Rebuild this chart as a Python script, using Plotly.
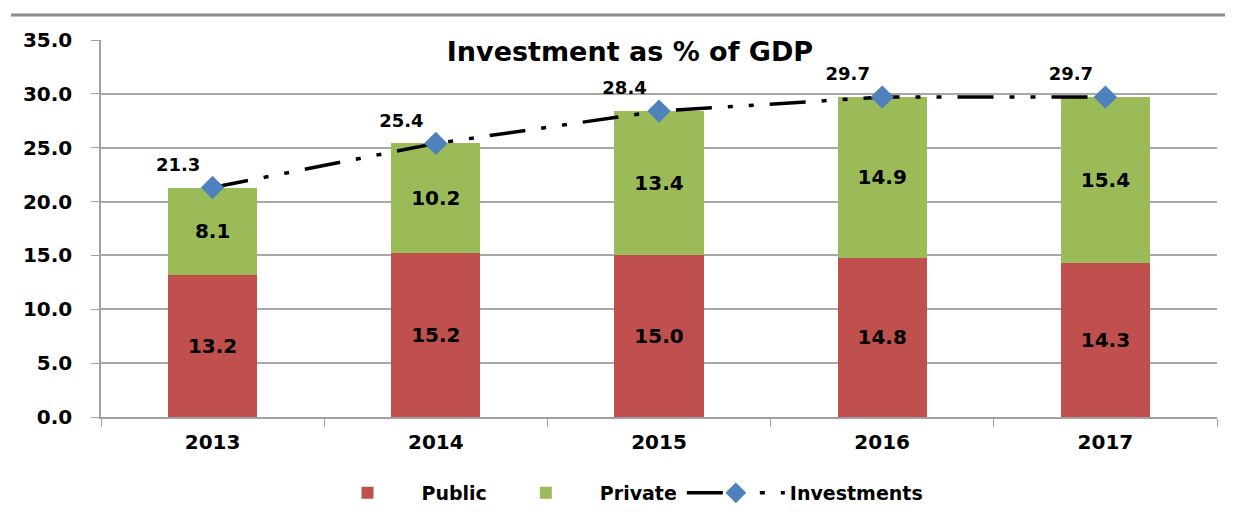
import plotly.graph_objects as go

years = ["2013", "2014", "2015", "2016", "2017"]
public = [13.2, 15.2, 15.0, 14.8, 14.3]
private = [8.1, 10.2, 13.4, 14.9, 15.4]
investments = [21.3, 25.4, 28.4, 29.7, 29.7]
y_ticks = [0, 5, 10, 15, 20, 25, 30, 35]

FONT = "DejaVu Sans"
W, H = 1217, 498          # page body has an 8px default margin on every side
L, R, T, B = 93, 8, 32, 89
PW, PH = W - L - R, H - T - B


def px(x):
    return (x - L) / PW


def py(y):
    return (T + PH - y) / PH


fig = go.Figure()
fig.add_trace(go.Bar(
    x=years, y=public, name="Public",
    marker=dict(color="#C0504D", line=dict(width=0)),
    text=[f"{v:.1f}" for v in public], textposition="inside",
    insidetextanchor="middle",
    textfont=dict(family=FONT, size=20, color="black", weight="bold"),
    width=0.4,
))
fig.add_trace(go.Bar(
    x=years, y=private, name="Private",
    marker=dict(color="#9BBB59", line=dict(width=0)),
    text=[f"{v:.1f}" for v in private], textposition="inside",
    insidetextanchor="middle",
    textfont=dict(family=FONT, size=20, color="black", weight="bold"),
    width=0.4,
))
fig.add_trace(go.Scatter(
    x=years, y=investments, name="Investments",
    mode="lines+markers+text",
    line=dict(color="black", width=3.5, dash="36px,16px,5px,16px,5px,16px"),
    marker=dict(symbol="diamond", size=18, color="#4F81BD"),
    text=[f"{v:.1f}" for v in investments], textposition="top left",
    textfont=dict(family=FONT, size=18, color="black", weight="bold"),
))

fig.update_layout(
    barmode="stack",
    width=W, height=H,
    margin=dict(l=L, r=R, t=T, b=B, autoexpand=False),
    paper_bgcolor="white", plot_bgcolor="white",
    font=dict(family=FONT, color="black"),
    title=dict(text="<b>Investment as % of GDP</b>", x=622 / W, xanchor="center",
               y=1 - 44 / H, yanchor="middle", yref="container",
               font=dict(family=FONT, size=27, color="black")),
    showlegend=True,
    legend=dict(orientation="h", x=px(613), xanchor="center",
                y=py(485), yanchor="middle",
                font=dict(family=FONT, size=19, color="black", weight="bold"),
                itemwidth=98, traceorder="normal"),
    xaxis=dict(
        automargin=False,
        showgrid=False, showline=True, linecolor="#A0A0A0", linewidth=1.5,
        ticks="outside", tickson="boundaries", ticklen=8, tickcolor="#A0A0A0",
        tickfont=dict(family=FONT, size=20, color="black", weight="bold"),
        ticklabelstandoff=6,
    ),
    yaxis=dict(
        automargin=False,
        range=[0, 35], tickvals=y_ticks, ticktext=[f"{v:.1f}" for v in y_ticks],
        showgrid=True, gridcolor="#A8A8A8", gridwidth=1.5,
        showline=True, linecolor="#A0A0A0", linewidth=1.5,
        ticks="outside", ticklen=8, tickcolor="#A0A0A0",
        tickfont=dict(family=FONT, size=20, color="black", weight="bold"),
        ticklabelstandoff=15,
        zeroline=False,
    ),
    shapes=[
        dict(type="line", xref="paper", yref="paper",
             x0=px(3), x1=px(W), y0=py(7), y1=py(7),
             line=dict(color="#8C8C8C", width=3), layer="below"),
    ],
)

fig.write_html("out.html")
